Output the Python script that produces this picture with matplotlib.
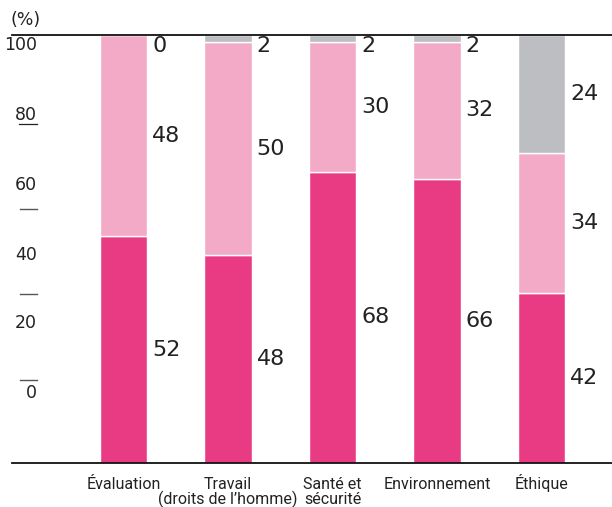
import matplotlib
matplotlib.use("Agg")
import matplotlib.pyplot as plt
from matplotlib.transforms import blended_transform_factory
import numpy as np

plt.rcParams["font.family"] = ["Roboto", "DejaVu Sans"]
NUMFONT = ["DejaVu Sans"]

categories = ["Évaluation", "Travail\n(droits de l’homme)", "Santé et\nsécurité",
              "Environnement", "Éthique"]
# segment heights as drawn (%)
dark = [53, 48.5, 68, 66.4, 39.7]
light = [47, 49.9, 30.4, 32, 32.7]
grey = [0, 1.6, 1.6, 1.6, 27.6]
# printed values
dark_lbl = ["52", "48", "68", "66", "42"]
light_lbl = ["48", "50", "30", "32", "34"]
grey_lbl = ["0", "2", "2", "2", "24"]

yticks = ["100", "80", "60", "40", "20", "0"]

DARK = "#E93B84"; LIGHT = "#F3AAC6"; GREY = "#BCBEC2"; INK = "#222222"

W, H = 612, 507
fig = plt.figure(figsize=(W / 100, H / 100), dpi=100)
ax = fig.add_axes([12 / W, 1 - 463 / H, 600 / W, 428 / H])

x = np.arange(len(categories))
bw = 0.45
d = np.array(dark); l = np.array(light); g = np.array(grey)
kw = dict(width=bw, edgecolor="white", linewidth=1.0)
ax.bar(x, d, color=DARK, **kw)
ax.bar(x, l, bottom=d, color=LIGHT, **kw)
ax.bar(x, g, bottom=d + l, color=GREY, **kw)

lx = x + bw / 2 + 0.05
num = dict(fontsize=16, va="center", ha="left", color=INK, family=NUMFONT)
for i in range(len(x)):
    ax.text(lx[i], d[i] / 2, dark_lbl[i], **num)
    ax.text(lx[i], d[i] + l[i] / 2, light_lbl[i], **num)
    gy = d[i] + l[i] + g[i] / 2 if g[i] > 10 else 97.4
    ax.text(lx[i], gy, grey_lbl[i], **num)

ax.set_xlim(-111.5 / 104.5, 488.5 / 104.5)
ax.set_ylim(0, 100)
for s in ("left", "right"):
    ax.spines[s].set_visible(False)
for s in ("top", "bottom"):
    ax.spines[s].set_linewidth(1.3)
    ax.spines[s].set_color("#111111")
ax.set_yticks([])
ax.set_xticks([])

# category labels, first lines sharing one baseline
tr = blended_transform_factory(ax.transData, fig.transFigure)
for xi, cat in zip(x, categories):
    for k, line in enumerate(cat.split("\n")):
        ax.text(xi, 1 - (489 + 15 * k) / H, line, transform=tr, ha="center",
                va="baseline", fontsize=11.5, color="#222222")

# odd left-hand labels
ty = [45, 115, 185, 255, 323, 393]
for t, py in zip(yticks, ty):
    fig.text(37 / W, 1 - py / H, t, ha="right", va="center", fontsize=12.5,
             color=INK, family=NUMFONT)
fig.add_artist(plt.Line2D([19 / W, 37 / W], [1 - 124 / H] * 2, color=INK, lw=0.9))
for py in (209, 294, 380):
    fig.add_artist(plt.Line2D([20 / W, 37 / W], [1 - py / H] * 2, color="#555555", lw=1.0))
fig.text(10 / W, 1 - 20 / H, "(%)", ha="left", va="center", fontsize=12.5,
         color=INK, family=NUMFONT)

fig.savefig("out.png", dpi=100)
